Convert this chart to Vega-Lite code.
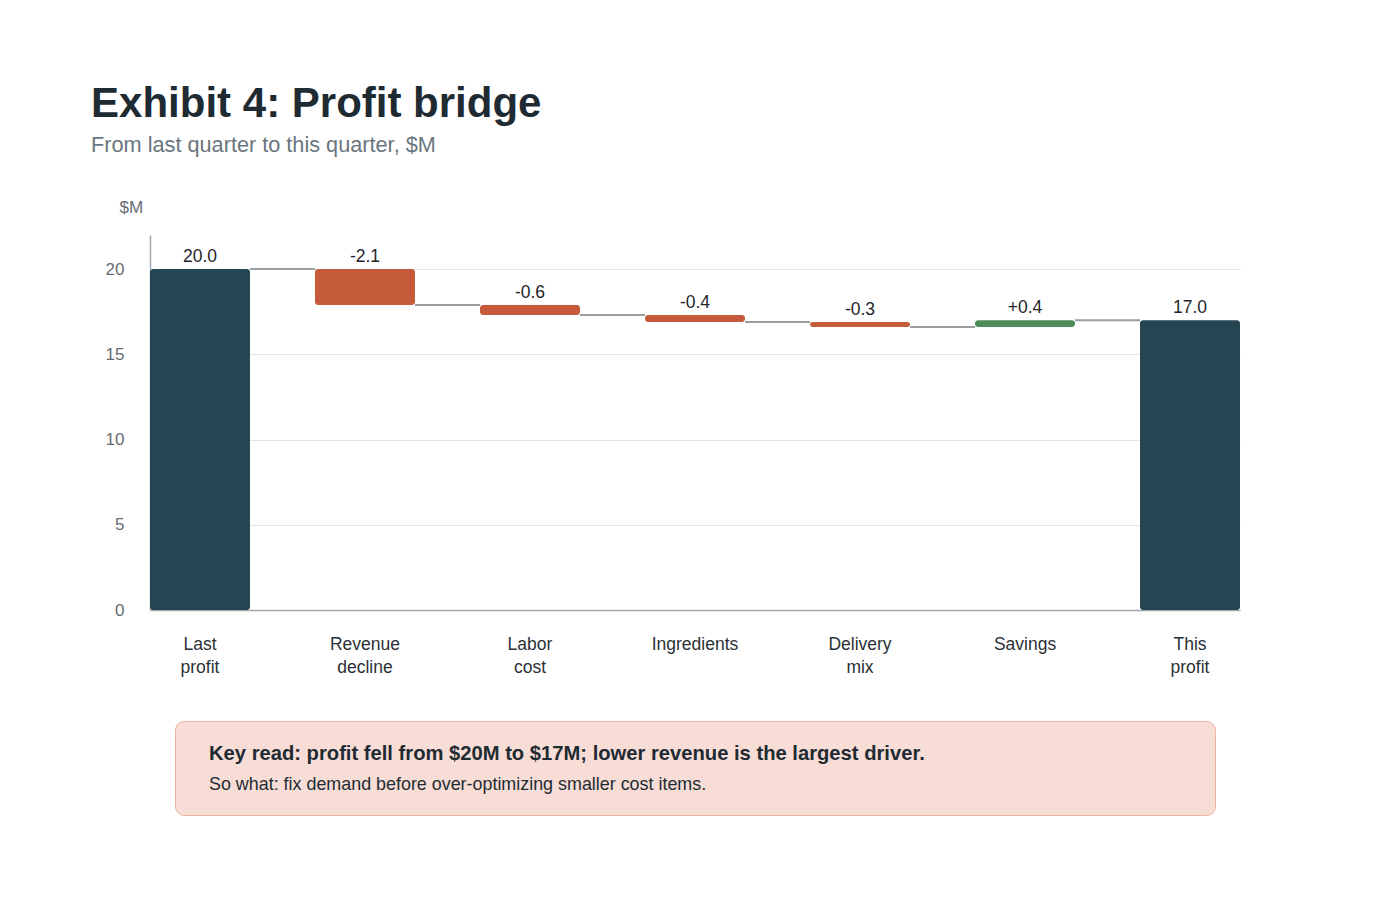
{
  "$schema": "https://vega.github.io/schema/vega-lite/v6.json",
  "background": "#ffffff",
  "padding": {"left": 91, "top": 83, "right": 159, "bottom": 84},
  "autosize": {"type": "pad"},
  "config": {
    "font": "Liberation Sans",
    "view": {"stroke": null}
  },
  "title": {
    "text": "Exhibit 4: Profit bridge",
    "subtitle": "From last quarter to this quarter, $M",
    "anchor": "start",
    "dx": -14,
    "font": "Liberation Sans",
    "fontSize": 42,
    "fontWeight": "bold",
    "color": "#1f2b33",
    "subtitleFont": "Liberation Sans",
    "subtitleFontSize": 21.7,
    "subtitleColor": "#6b767e",
    "subtitlePadding": 9,
    "offset": 40
  },
  "datasets": {
    "bars": [
      {"step": "Last profit", "kind": "total", "start": 0, "end": 20, "top": 20, "label": "20.0"},
      {"step": "Revenue decline", "kind": "decrease", "start": 20, "end": 17.9, "top": 20, "label": "-2.1"},
      {"step": "Labor cost", "kind": "decrease", "start": 17.9, "end": 17.3, "top": 17.9, "label": "-0.6"},
      {"step": "Ingredients", "kind": "decrease", "start": 17.3, "end": 16.9, "top": 17.3, "label": "-0.4"},
      {"step": "Delivery mix", "kind": "decrease", "start": 16.9, "end": 16.6, "top": 16.9, "label": "-0.3"},
      {"step": "Savings", "kind": "increase", "start": 16.6, "end": 17.0, "top": 17.0, "label": "+0.4"},
      {"step": "This profit", "kind": "total", "start": 0, "end": 17, "top": 17, "label": "17.0"}
    ],
    "connectors": [
      {"from": "Last profit", "to": "Revenue decline", "level": 20},
      {"from": "Revenue decline", "to": "Labor cost", "level": 17.9},
      {"from": "Labor cost", "to": "Ingredients", "level": 17.3},
      {"from": "Ingredients", "to": "Delivery mix", "level": 16.9},
      {"from": "Delivery mix", "to": "Savings", "level": 16.6},
      {"from": "Savings", "to": "This profit", "level": 17.0}
    ],
    "callout": [
      {"role": "key", "text": "Key read: profit fell from $20M to $17M; lower revenue is the largest driver."},
      {"role": "sowhat", "text": "So what: fix demand before over-optimizing smaller cost items."}
    ]
  },
  "bounds": "flush",
  "center": true,
  "spacing": 111,
  "vconcat": [
    {
      "width": 1090,
      "height": 375,
      "layer": [
        {
          "data": {"name": "connectors"},
          "mark": {"type": "rule", "color": "#9b9fa3", "strokeWidth": 2},
          "encoding": {
            "x": {"field": "from", "type": "nominal", "bandPosition": 1},
            "x2": {"field": "to", "bandPosition": 0},
            "y": {"field": "level", "type": "quantitative"}
          }
        },
        {
          "data": {"name": "bars"},
          "mark": {"type": "bar", "cornerRadius": 3},
          "encoding": {
            "x": {
              "field": "step",
              "type": "nominal",
              "scale": {
                "domain": ["Last profit", "Revenue decline", "Labor cost", "Ingredients", "Delivery mix", "Savings", "This profit"],
                "paddingInner": 0.394,
                "paddingOuter": 0
              },
              "axis": {
                "title": null,
                "labelAngle": 0,
                "labelAlign": "center",
                "labelExpr": "split(datum.label, ' ')",
                "ticks": false,
                "domainColor": "#a3a7ab",
                "domainWidth": 1.5,
                "labelPadding": 25,
                "labelFont": "Liberation Sans",
                "labelFontSize": 17.5,
                "labelColor": "#2b3136",
                "labelLineHeight": 23,
                "labelBaseline": "top"
              }
            },
            "y": {
              "field": "start",
              "type": "quantitative",
              "scale": {"domain": [0, 22], "nice": false, "zero": true},
              "axis": {
                "values": [0, 5, 10, 15, 20],
                "grid": true,
                "gridColor": "#e5e5e5",
                "gridWidth": 1,
                "ticks": false,
                "domainColor": "#a3a7ab",
                "domainWidth": 1.5,
                "labelPadding": 26,
                "labelFont": "Liberation Sans",
                "labelFontSize": 17,
                "labelColor": "#666c71",
                "title": "$M",
                "titleAngle": 0,
                "titleAlign": "left",
                "titleBaseline": "middle",
                "titleX": -31,
                "titleY": -28,
                "titleFont": "Liberation Sans",
                "titleFontSize": 17,
                "titleFontWeight": "normal",
                "titleColor": "#666c71"
              }
            },
            "y2": {"field": "end"},
            "color": {
              "field": "kind",
              "type": "nominal",
              "scale": {"domain": ["total", "decrease", "increase"], "range": ["#254552", "#c65b3b", "#4e8b57"]},
              "legend": null
            }
          }
        },
        {
          "data": {"name": "bars"},
          "mark": {"type": "text", "baseline": "alphabetic", "dy": -7, "fontSize": 17.5, "font": "Liberation Sans", "color": "#1f2529"},
          "encoding": {
            "x": {"field": "step", "type": "nominal"},
            "y": {"field": "top", "type": "quantitative"},
            "text": {"field": "label"}
          }
        }
      ]
    },
    {
      "width": 1040,
      "height": 94,
      "view": {"fill": "#f7ddd5", "stroke": "#ecb3a2", "strokeWidth": 1, "cornerRadius": 9},
      "data": {"name": "callout"},
      "encoding": {
        "x": {"datum": 0, "type": "quantitative", "scale": {"domain": [0, 1]}, "axis": null},
        "y": {"field": "role", "type": "nominal", "scale": {"type": "point", "domain": ["key", "sowhat"], "padding": 1.1}, "axis": null},
        "text": {"field": "text"}
      },
      "layer": [
        {
          "transform": [{"filter": "datum.role === 'key'"}],
          "mark": {"type": "text", "align": "left", "baseline": "middle", "dx": 34, "dy": 2, "font": "Liberation Sans", "fontSize": 20.2, "fontWeight": "bold", "color": "#1f2b33"}
        },
        {
          "transform": [{"filter": "datum.role === 'sowhat'"}],
          "mark": {"type": "text", "align": "left", "baseline": "middle", "dx": 34, "dy": 1.5, "font": "Liberation Sans", "fontSize": 17.9, "color": "#1f2b33"}
        }
      ]
    }
  ]
}
